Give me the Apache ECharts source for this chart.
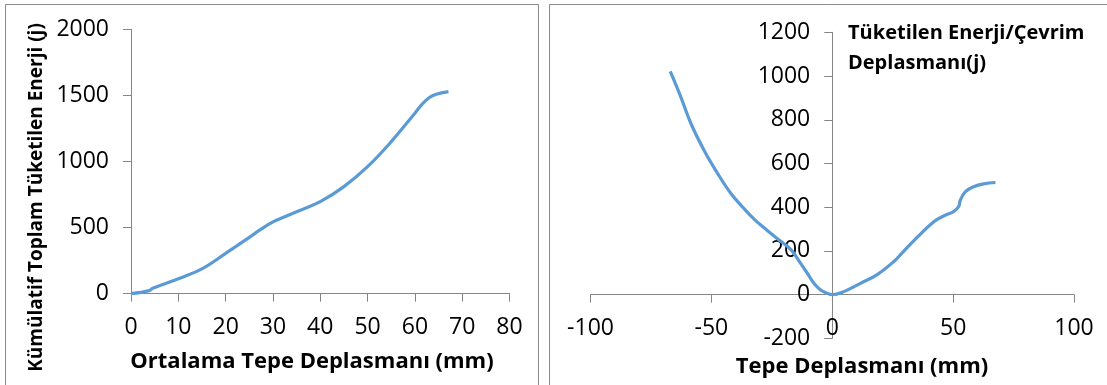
<!DOCTYPE html>
<html>
<head>
<meta charset="utf-8">
<script src="https://cdn.jsdelivr.net/npm/echarts@6/dist/echarts.min.js"></script>
<style>
html,body{margin:0;padding:0;background:#fff;}
#chart{width:1107px;height:385px;}
</style>
</head>
<body>
<div id="chart"></div>
<script>
// Left chart: cumulative total dissipated energy vs mean top displacement
const leftX = [0, 3.9, 4.6, 10.3, 15.2, 20, 25, 27.5, 30, 32.5, 35, 40, 45, 50, 55, 60, 61.5, 63, 64.5, 67.1];
const leftY = [0, 23, 41, 117, 192, 305, 426, 488, 543, 582, 620, 696, 810, 961, 1150, 1365, 1432, 1482, 1508, 1528];

// Right chart: dissipated energy per cycle vs top displacement
const rightX = [-67, -62.7, -58.5, -53.1, -47.5, -42, -37, -32, -27, -22, -17, -13.5, -10.3, -7.6, -4.8, -2.1, 0, 4.8, 11.7, 18.6, 25.5, 29, 35.1, 42, 46.1, 50.2, 52.3, 53, 55.1, 58.5, 62.6, 67.5];
const rightY = [1021, 906, 784, 662, 556, 464, 400, 342, 295, 250, 205, 150, 98, 52, 21, 6, 0, 14, 52, 92, 152, 192, 262, 334, 360, 380, 403, 433, 471, 494, 507, 513];

const leftXTicks = [0, 80, 10];
const leftYTicks = [0, 2000, 500];
const rightXTicks = [-100, 100, 50];
const rightYTicks = [-200, 1200, 200];

const leftXTitle = 'Ortalama Tepe Deplasmanı (mm)';
const leftYTitle = 'Kümülatif Toplam Tüketilen Enerji (j)';
const rightXTitle = 'Tepe Deplasmanı (mm)';
const rightYTitle = 'Tüketilen Enerji/Çevrim\nDeplasmanı(j)';

const FONT = '"Open Sans", "Noto Sans", sans-serif';
const axisColor = '#868686';

function pairs(xs, ys) { return xs.map((x, i) => [x, ys[i]]); }

function valueAxis(gridIndex, t, extra) {
  return Object.assign({
    type: 'value', gridIndex: gridIndex,
    min: t[0], max: t[1], interval: t[2],
    axisLine: { show: true, onZero: false, lineStyle: { color: axisColor, width: 1 } },
    axisTick: { show: true, length: 8, lineStyle: { color: axisColor } },
    axisLabel: { color: '#000', fontSize: 23, fontFamily: FONT, margin: 22, formatter: v => String(v) },
    splitLine: { show: false }
  }, extra || {});
}

// right grid geometry (pixels) used to place the crossing axes at zero
const RG = { left: 590.5, right: 33, top: 32.3, bottom: 46.6 };
const rW = 1107 - RG.left - RG.right, rH = 385 - RG.top - RG.bottom;
const xZeroOffset = -rH * (0 - rightYTicks[0]) / (rightYTicks[1] - rightYTicks[0]);
const yZeroOffset = -rW * (0 - rightXTicks[0]) / (rightXTicks[1] - rightXTicks[0]);

const chart = echarts.init(document.getElementById('chart'), null, { renderer: 'canvas' });
chart.setOption({
  backgroundColor: '#fff',
  animation: false,
  grid: [
    { left: 131, right: 597.5, top: 29.3, bottom: 91.3, outerBoundsMode: 'none', containLabel: false },
    { left: RG.left, right: RG.right, top: RG.top, bottom: RG.bottom, outerBoundsMode: 'none', containLabel: false }
  ],
  xAxis: [
    valueAxis(0, leftXTicks, { position: 'bottom' }),
    valueAxis(1, rightXTicks, { position: 'bottom', offset: xZeroOffset })
  ],
  yAxis: [
    valueAxis(0, leftYTicks, { position: 'left' }),
    valueAxis(1, rightYTicks, { position: 'left', offset: yZeroOffset })
  ],
  series: [
    { type: 'line', xAxisIndex: 0, yAxisIndex: 0, data: pairs(leftX, leftY), showSymbol: false, symbol: 'none', smooth: 0.4,
      lineStyle: { color: '#5B9BD5', width: 3.2 } },
    { type: 'line', xAxisIndex: 1, yAxisIndex: 1, data: pairs(rightX, rightY), showSymbol: false, symbol: 'none', smooth: 0.4,
      lineStyle: { color: '#5B9BD5', width: 3.2 } }
  ],
  graphic: [
    { type: 'rect', z: -1, shape: { x: 5.5, y: 4.5, width: 533, height: 420 }, style: { fill: 'none', stroke: '#8c8c8c', lineWidth: 1 } },
    { type: 'rect', z: -1, shape: { x: 549.5, y: 4.5, width: 600, height: 420 }, style: { fill: 'none', stroke: '#8c8c8c', lineWidth: 1 } },
    { type: 'text', x: 312, y: 362, style: { text: leftXTitle, font: 'bold 22px ' + FONT, fill: '#000', textAlign: 'center', textVerticalAlign: 'middle' } },
    { type: 'text', x: 37, y: 197.5, rotation: Math.PI / 2, style: { text: leftYTitle, font: 'bold 19px ' + FONT, fill: '#000', textAlign: 'center', textVerticalAlign: 'middle' } },
    { type: 'text', x: 862, y: 367, style: { text: rightXTitle, font: 'bold 22px ' + FONT, fill: '#000', textAlign: 'center', textVerticalAlign: 'middle' } },
    { type: 'text', x: 848, y: 18, style: { text: rightYTitle, font: 'bold 20px ' + FONT, lineHeight: 30, fill: '#000', textAlign: 'left', textVerticalAlign: 'top' } }
  ]
});
</script>
</body>
</html>
